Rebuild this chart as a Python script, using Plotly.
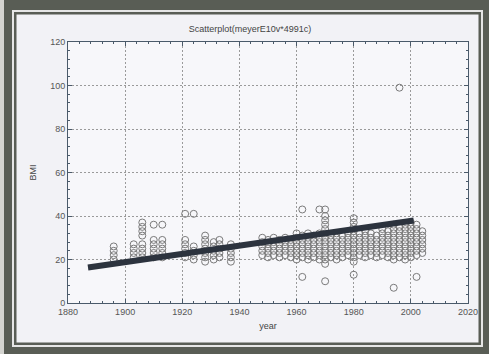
import plotly.graph_objects as go

# ---- data ----
col_years = [1896, 1903, 1906, 1910, 1913, 1921, 1924, 1928, 1931, 1933, 1937,
             1948, 1950, 1952, 1954, 1956, 1958, 1960, 1962, 1964, 1966, 1968,
             1970, 1972, 1974, 1976, 1978, 1980, 1982, 1984, 1986, 1988, 1990,
             1992, 1994, 1996, 1998, 2000, 2002, 2004]
col_bmi = [
    [20, 22, 24, 26],
    [21, 23, 25, 27],
    [21, 23, 25, 27, 31, 33, 35, 37],
    [21, 23, 25, 27, 29, 36],
    [21, 23, 25, 27, 29, 36],
    [21, 23, 25, 27, 29, 41],
    [20, 22, 24, 26, 41],
    [19, 21, 23, 25, 27, 29, 31],
    [20, 22, 24, 26, 28],
    [21, 23, 25, 27, 29],
    [19, 21, 23, 25, 27],
    [22, 24, 26, 28, 30],
    [21, 23, 25, 27, 29],
    [22, 24, 26, 28, 30],
    [21, 23, 25, 27, 29],
    [22, 24, 26, 28, 30],
    [21, 23, 25, 27, 29],
    [20, 22, 24, 26, 28, 30, 32],
    [21, 23, 25, 27, 29, 31, 12, 43],
    [20, 22, 24, 26, 28, 30, 32],
    [21, 23, 25, 27, 29, 31],
    [20, 22, 24, 26, 28, 30, 32, 43],
    [18, 20, 22, 24, 26, 28, 30, 32, 34, 36, 38, 40, 43, 10],
    [21, 23, 25, 27, 29, 31],
    [20, 22, 24, 26, 28, 30, 32],
    [21, 23, 25, 27, 29, 31],
    [22, 24, 26, 28, 30, 32],
    [19, 21, 23, 25, 27, 29, 31, 33, 35, 37, 39, 13],
    [22, 24, 26, 28, 30, 32],
    [21, 23, 25, 27, 29, 31, 33],
    [22, 24, 26, 28, 30, 32],
    [21, 23, 25, 27, 29, 31],
    [22, 24, 26, 28, 30, 32, 34],
    [21, 23, 25, 27, 29, 31, 33],
    [20, 22, 24, 26, 28, 30, 32, 34, 36, 7],
    [21, 23, 25, 27, 29, 31, 33, 35, 99],
    [20, 22, 24, 26, 28, 30, 32, 34, 36],
    [21, 23, 25, 27, 29, 31, 33, 35, 37],
    [22, 24, 26, 28, 30, 32, 34, 36, 12],
    [23, 25, 27, 29, 31, 33],
]
fit_year = [1887, 2001]
fit_bmi = [16.3, 37.9]

x_ticks = [1880, 1900, 1920, 1940, 1960, 1980, 2000, 2020]
y_ticks = [0, 20, 40, 60, 80, 100, 120]

year = [y for y, vals in zip(col_years, col_bmi) for _ in vals]
bmi = [v for vals in col_bmi for v in vals]

# ---- figure ----
W, H = 489, 354
ML, MR, MT, MB = 68, 21, 42, 51
PW, PH = W - ML - MR, H - MT - MB


def px(x):
    return (x - ML) / PW


def py(y):
    return (H - MB - y) / PH


fig = go.Figure()
fig.add_trace(go.Scatter(
    x=year, y=bmi, mode="markers",
    marker=dict(symbol="circle-open", size=7, color="#7a7a7a",
                line=dict(width=1, color="#7a7a7a")),
    showlegend=False, hoverinfo="x+y"))
fig.add_trace(go.Scatter(
    x=fit_year, y=fit_bmi, mode="lines",
    line=dict(color="#2c333e", width=6), showlegend=False))

dark = "#595d55"
shapes = [
    dict(type="rect", xref="paper", yref="paper", x0=px(0), x1=px(4),
         y0=py(0), y1=py(H), fillcolor="#d4d4d0", line_width=0, layer="below"),
    dict(type="rect", xref="paper", yref="paper", x0=px(12), x1=px(483),
         y0=py(10), y1=py(347), fillcolor="#e6e6e6", line_width=0, layer="below"),
    dict(type="rect", xref="paper", yref="paper", x0=px(14), x1=px(481),
         y0=py(12), y1=py(345), fillcolor=dark, line_width=0, layer="below"),
    dict(type="rect", xref="paper", yref="paper", x0=px(16.5), x1=px(478.5),
         y0=py(14.5), y1=py(342.5), fillcolor="#f2f2f6", line_width=0, layer="below"),
    dict(type="rect", xref="paper", yref="paper", x0=0, x1=1, y0=0, y1=1,
         fillcolor="#f7f7fa", line_width=0, layer="below"),
]

axis_common = dict(
    showgrid=True, gridcolor="#9a9a9a", griddash="2px,2px", gridwidth=1,
    showline=True, linecolor="#4a5a6a", linewidth=1, mirror="ticks",
    ticks="inside", ticklen=4, tickcolor="#4a5a6a",
    zeroline=False,
    tickfont=dict(family="Liberation Sans, Arial", size=9, color="#555"),
    minor=dict(dtick=4, ticks="inside", ticklen=2, tickcolor="#4a5a6a", showgrid=False),
)

fig.update_layout(
    width=W, height=H,
    margin=dict(l=ML, r=MR, t=MT, b=MB),
    paper_bgcolor=dark,
    plot_bgcolor="#f7f7fa",
    shapes=shapes,
    title=dict(text="Scatterplot(meyerE10v*4991c)", x=250 / W, xanchor="center",
               y=1 - 29 / H, yanchor="middle",
               font=dict(family="Liberation Sans, Arial", size=9, color="#444")),
    xaxis=dict(range=[1880, 2020], tickvals=x_ticks, **axis_common,
               title=dict(text="year", standoff=6,
                          font=dict(family="Liberation Sans, Arial", size=9, color="#444"))),
    yaxis=dict(range=[0, 120], tickvals=y_ticks, **axis_common,
               title=dict(text="BMI", standoff=12,
                          font=dict(family="Liberation Sans, Arial", size=9, color="#444"))),
)

fig.write_html("out.html", config={"displayModeBar": False})

# remove the default page margin so the figure sits at the window origin
with open("out.html", encoding="utf-8") as f:
    page = f.read()
page = page.replace("<body>", '<body style="margin:0;overflow:hidden">', 1)
with open("out.html", "w", encoding="utf-8") as f:
    f.write(page)
